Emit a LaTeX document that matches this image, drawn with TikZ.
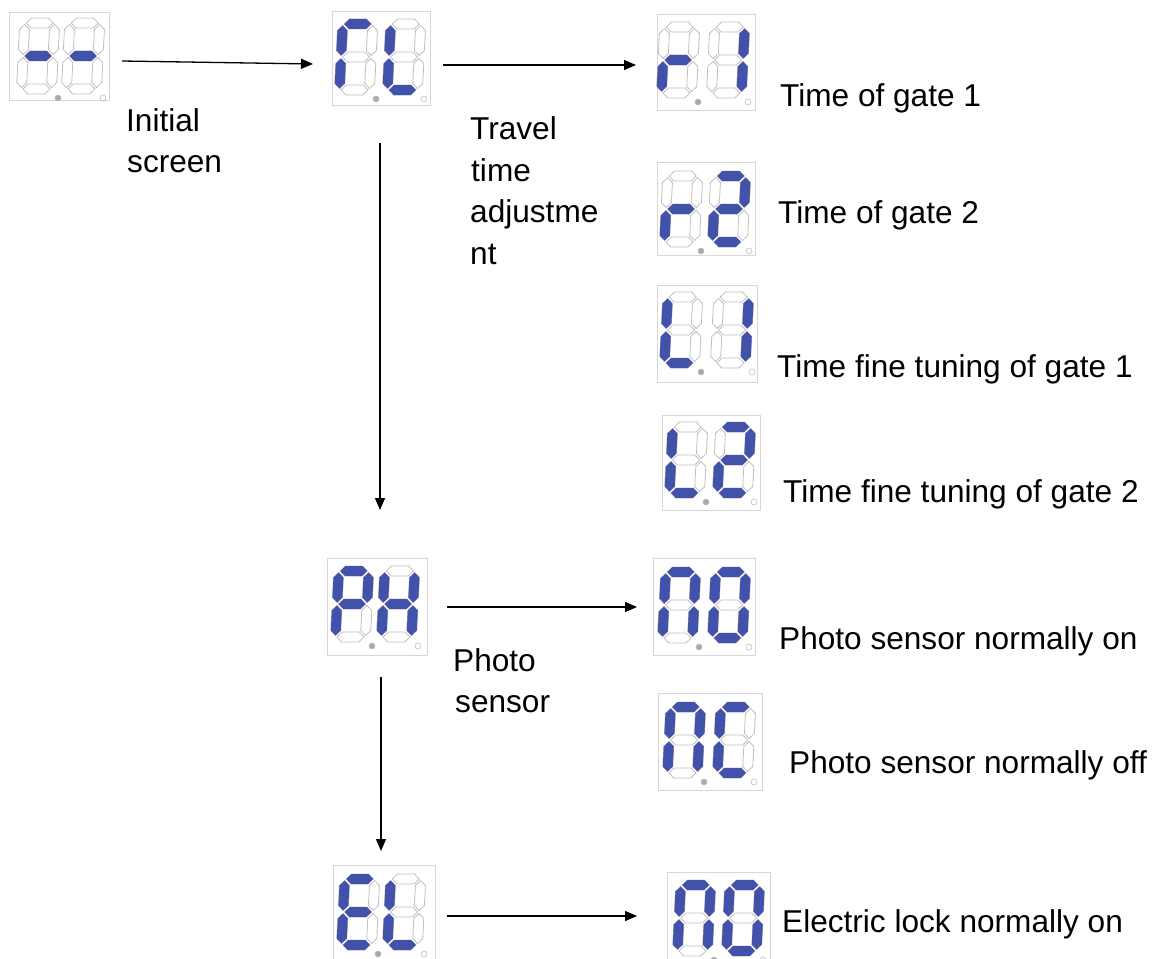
\documentclass[tikz,border=0pt]{standalone}
\usepackage{fontspec}
\setmainfont{Liberation Sans}
\usetikzlibrary{arrows.meta}
\definecolor{segblue}{RGB}{66,82,170}
\definecolor{seggray}{RGB}{190,190,190}
\definecolor{boxgray}{RGB}{215,215,215}
\definecolor{dotgray}{RGB}{170,170,170}

\def\sgpa{(6.5,5)--(11.5,0)--(28.5,0)--(33.5,5)--(28.5,10)--(11.5,10)--cycle}
\def\sgpg{(6.5,38)--(11.5,33)--(28.5,33)--(33.5,38)--(28.5,43)--(11.5,43)--cycle}
\def\sgpd{(6.5,71)--(11.5,66)--(28.5,66)--(33.5,71)--(28.5,76)--(11.5,76)--cycle}
\def\sgpf{(5,6.5)--(10,11.5)--(10,31.5)--(5,36.5)--(0,31.5)--(0,11.5)--cycle}
\def\sgpe{(5,39.5)--(10,44.5)--(10,64.5)--(5,69.5)--(0,64.5)--(0,44.5)--cycle}
\def\sgpb{(35,6.5)--(40,11.5)--(40,31.5)--(35,36.5)--(30,31.5)--(30,11.5)--cycle}
\def\sgpc{(35,39.5)--(40,44.5)--(40,64.5)--(35,69.5)--(30,64.5)--(30,44.5)--cycle}

\tikzset{
  segoff/.style={draw=seggray, line width=0.8pt},
  segon/.style={fill=segblue},
  dispbox/.style={draw=boxgray, line width=0.9pt, anchor=north west, inner sep=0pt},
  lbl/.style={anchor=base west, inner sep=0pt, font=\fontsize{31.6pt}{38pt}\selectfont},
  arr/.style={line width=1.3pt, -{Triangle[length=12pt,width=10pt]}},
}

\newcommand\sevdigit[3]{%
  \begin{scope}[shift={(#1,#2)},xslant=0.05]
    \foreach \s in {a,b,c,d,e,f,g}{\draw[segoff] \csname sgp\s\endcsname;}
    \foreach \s in {#3}{\fill[segon] \csname sgp\s\endcsname;}
  \end{scope}}

% #1 x, #2 y, #3 offset of right digit, #4 left segments, #5 right segments
\newcommand\sevpair[5]{%
  \sevdigit{#1-1}{#2-1}{#4}
  \sevdigit{#1+#3-1}{#2-1}{#5}
  \fill[dotgray, draw=seggray, line width=0.6pt] (#1+37,#2+79) circle (3pt);
  \draw[seggray, line width=0.6pt] (#1+#3+37,#2+79) circle (3pt);}

\begin{document}
\begin{tikzpicture}[x=1pt,y=-1pt]
\useasboundingbox (0,0) rectangle (1166,958);
\clip (0,0) rectangle (1166,958);

% displays
\node[dispbox, minimum width=100pt, minimum height=88pt] (init) at (9,12) {};
\sevpair{21}{19}{45}{g}{g}
\node[dispbox, minimum width=98pt, minimum height=94pt] (cl) at (332,11) {};
\sevpair{339}{20}{48}{a,f,e}{f,e,d}
\node[dispbox, minimum width=98pt, minimum height=96pt] (r1) at (657,14) {};
\sevpair{661}{23}{50}{g,e}{b,c}
\node[dispbox, minimum width=98pt, minimum height=93pt] (r2) at (657,162) {};
\sevpair{664}{172}{48}{g,e}{a,b,g,e,d}
\node[dispbox, minimum width=100pt, minimum height=97pt] (l1) at (657,285) {};
\sevpair{664}{293}{51}{f,e,d}{b,c}
\node[dispbox, minimum width=98pt, minimum height=95pt] (l2) at (662,415) {};
\sevpair{669}{423}{48}{f,e,d}{a,b,g,e,d}
\node[dispbox, minimum width=100pt, minimum height=97pt] (ph) at (327,558) {};
\sevpair{335}{567}{46}{a,b,f,g,e}{f,b,g,e,c}
\node[dispbox, minimum width=102pt, minimum height=97pt] (no1) at (653,558) {};
\sevpair{662}{568}{50}{a,b,c,e,f}{a,b,c,d,e,f}
\node[dispbox, minimum width=104pt, minimum height=97pt] (nc) at (658,693) {};
\sevpair{667}{703}{50}{a,b,c,e,f}{a,f,e,d}
\node[dispbox, minimum width=102pt, minimum height=110pt] (el) at (333,865) {};
\sevpair{341}{875}{46}{a,f,g,e,d}{f,e,d}
\node[dispbox, minimum width=103pt, minimum height=110pt] (no2) at (667,872) {};
\sevpair{677}{881}{49}{a,b,c,e,f}{a,b,c,d,e,f}

% arrows
\coordinate (a1s) at (122,61);  \coordinate (a1e) at (313,64);
\coordinate (a2s) at (443,65);  \coordinate (a2e) at (636,65);
\coordinate (a3s) at (380,143); \coordinate (a3e) at (380,510);
\coordinate (a4s) at (447,607); \coordinate (a4e) at (637,607);
\coordinate (a5s) at (381,677); \coordinate (a5e) at (381,851);
\coordinate (a6s) at (447,916); \coordinate (a6e) at (637,916);
\draw[arr] (a1s) -- (a1e);
\draw[arr] (a2s) -- (a2e);
\draw[arr] (a3s) -- (a3e);
\draw[arr] (a4s) -- (a4e);
\draw[arr] (a5s) -- (a5e);
\draw[arr] (a6s) -- (a6e);

% labels
\node[lbl] (t1a) at (126,131) {Initial};
\node[lbl] (t1b) at (127,172) {screen};
\node[lbl] (t2a) at (470,139) {Travel};
\node[lbl] (t2b) at (471,181) {time};
\node[lbl] (t2c) at (470,222) {adjustme};
\node[lbl] (t2d) at (470,264) {nt};
\node[lbl] (t3) at (780,106) {Time of gate 1};
\node[lbl] (t4) at (778,223) {Time of gate 2};
\node[lbl] (t5) at (777,377) {Time fine tuning of gate 1};
\node[lbl] (t6) at (783,502) {Time fine tuning of gate 2};
\node[lbl] (t7a) at (453,671) {Photo};
\node[lbl] (t7b) at (455,712) {sensor};
\node[lbl] (t8) at (779,649) {Photo sensor normally on};
\node[lbl] (t9) at (789,773) {Photo sensor normally off};
\node[lbl] (t10) at (782,932) {Electric lock normally on};
\end{tikzpicture}
\end{document}
